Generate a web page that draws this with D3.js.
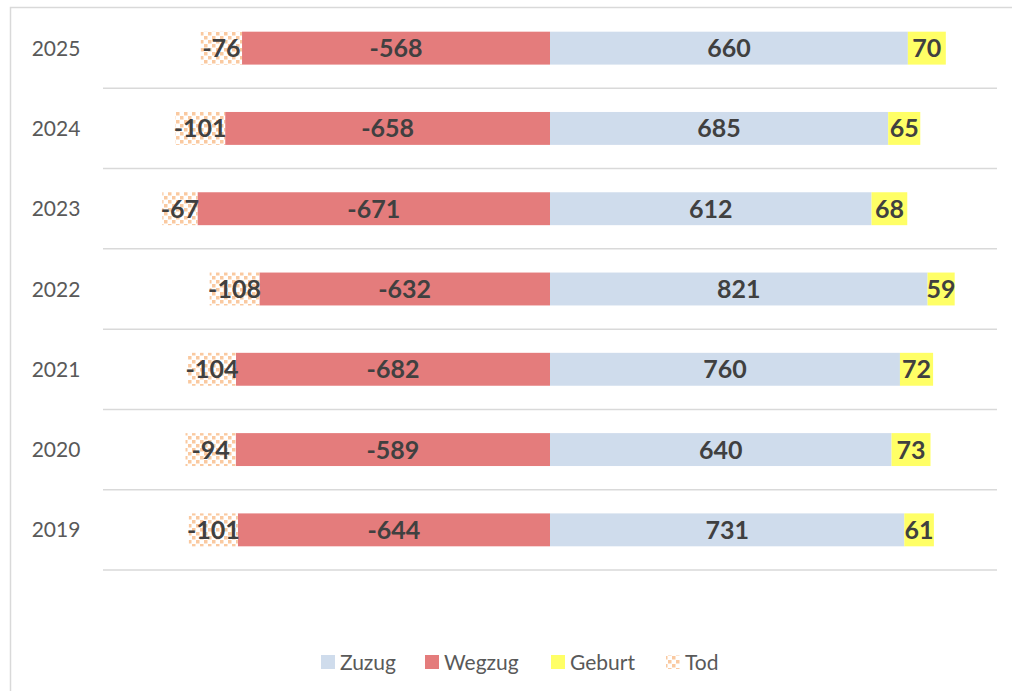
<!DOCTYPE html>
<html>
<head>
<meta charset="utf-8">
<script src="https://cdn.jsdelivr.net/npm/d3@7"></script>
<style>
  html, body { margin: 0; padding: 0; background: #fff; }
  svg { display: block; }
</style>
</head>
<body>
<svg id="chart"></svg>
<script>
// ─── Data (absolute counts per year; bars are 100% stacked shares) ───
const years   = ["2025", "2024", "2023", "2022", "2021", "2020", "2019"];
const zuzug   = [660, 685, 612, 821, 760, 640, 731];
const geburt  = [70, 65, 68, 59, 72, 73, 61];
const wegzug  = [-568, -658, -671, -632, -682, -589, -644];
const tod     = [-76, -101, -67, -108, -104, -94, -101];

const xTicks = [-0.6, 0.6];   // hidden axis extent (share of total)

const W = 1012, H = 691;
const COL = { zuzug: "#cfdcec", wegzug: "#e47c7c", geburt: "#ffff66" };

const svg = d3.select("#chart").attr("width", W).attr("height", H);

// pattern for "Tod"
const defs = svg.append("defs");
const pat = defs.append("pattern").attr("id", "dots")
    .attr("patternUnits", "userSpaceOnUse").attr("width", 8).attr("height", 8);
pat.append("rect").attr("width", 8).attr("height", 8).attr("fill", "#fff");
pat.append("rect").attr("x", 0).attr("y", 0).attr("width", 3.5).attr("height", 3.5).attr("fill", "#fac9a0");
pat.append("rect").attr("x", 4).attr("y", 4).attr("width", 3.5).attr("height", 3.5).attr("fill", "#fac9a0");

// chart border (right/bottom run off the picture)
svg.append("rect").attr("x", 10.5).attr("y", 7.5).attr("width", 1200).attr("height", 900)
    .attr("fill", "none").attr("stroke", "#d9d9d9").attr("stroke-width", 1.5);

const plot = { left: 103, right: 997, top: 8, bottom: 570 };

const x = d3.scaleLinear().domain(d3.extent(xTicks)).range([plot.left, plot.right]);
const y = d3.scaleBand().domain(years).range([plot.top, plot.bottom]).padding(0);
const barH = y.bandwidth() * 0.41;

// gridlines (category boundaries)
const bounds = years.map(yr => y(yr) + y.bandwidth());
svg.append("g").selectAll("line").data(bounds).join("line")
    .attr("x1", plot.left).attr("x2", plot.right)
    .attr("y1", d => d).attr("y2", d => d)
    .attr("stroke", "#d9d9d9").attr("stroke-width", 1.5);

// category labels
svg.append("g").selectAll("text").data(years).join("text")
    .attr("x", 56).attr("y", d => y(d) + y.bandwidth() / 2)
    .attr("dy", "0.36em").attr("text-anchor", "middle")
    .attr("font-family", "Lato, 'Open Sans', sans-serif").attr("font-size", 21)
    .attr("fill", "#595959").text(d => d);

// build segments
const segs = [];
years.forEach((yr, i) => {
    const total = Math.abs(zuzug[i]) + Math.abs(geburt[i]) + Math.abs(wegzug[i]) + Math.abs(tod[i]);
    const sW = Math.abs(wegzug[i]) / total, sT = Math.abs(tod[i]) / total;
    const sZ = zuzug[i] / total, sG = geburt[i] / total;
    segs.push({ yr, key: "wegzug", x0: -sW, x1: 0, v: wegzug[i] });
    segs.push({ yr, key: "tod", x0: -sW - sT, x1: -sW, v: tod[i] });
    segs.push({ yr, key: "zuzug", x0: 0, x1: sZ, v: zuzug[i] });
    segs.push({ yr, key: "geburt", x0: sZ, x1: sZ + sG, v: geburt[i] });
});

const fillOf = k => k === "tod" ? "url(#dots)" : COL[k];

svg.append("g").selectAll("rect").data(segs).join("rect")
    .attr("x", d => x(d.x0)).attr("width", d => x(d.x1) - x(d.x0))
    .attr("y", d => y(d.yr) + (y.bandwidth() - barH) / 2).attr("height", barH)
    .attr("fill", d => fillOf(d.key));

svg.append("g").selectAll("text").data(segs).join("text")
    .attr("x", d => (x(d.x0) + x(d.x1)) / 2)
    .attr("y", d => y(d.yr) + y.bandwidth() / 2)
    .attr("dy", "0.36em").attr("text-anchor", "middle")
    .attr("font-family", "Lato, 'Open Sans', sans-serif").attr("font-weight", 700)
    .attr("font-size", 25).attr("fill", "#404040")
    .text(d => d.v);

// legend
const legend = [
    { key: "zuzug", label: "Zuzug", x: 321 },
    { key: "wegzug", label: "Wegzug", x: 425 },
    { key: "geburt", label: "Geburt", x: 551 },
    { key: "tod", label: "Tod", x: 666 }
];
const lg = svg.append("g");
legend.forEach(d => {
    lg.append("rect").attr("x", d.x).attr("y", 655).attr("width", 14).attr("height", 14)
        .attr("fill", fillOf(d.key));
    lg.append("text").attr("x", d.x + 19).attr("y", 662).attr("dy", "0.36em")
        .attr("font-family", "Lato, 'Open Sans', sans-serif").attr("font-size", 21)
        .attr("fill", "#595959").text(d.label);
});
</script>
</body>
</html>
